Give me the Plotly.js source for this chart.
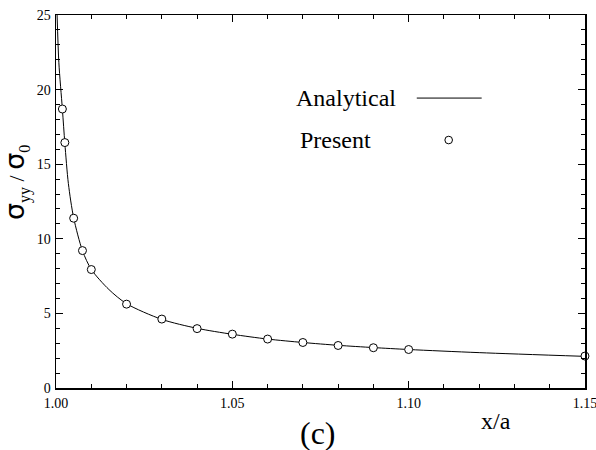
<!DOCTYPE html>
<html><head><meta charset="utf-8">
<script src="https://cdn.plot.ly/plotly-3.0.1.min.js"></script>
<style>body{margin:0;background:#fff}#c{width:596px;height:450px}</style>
</head><body><div id="c"></div>
<script>
// Analytical curve
const curveX = [1.0003, 1.0008, 1.0018, 1.0025, 1.0035, 1.005, 1.0075, 1.01, 1.015, 1.02, 1.03, 1.04, 1.05, 1.06, 1.07, 1.08, 1.09, 1.10, 1.12, 1.15];
const curveY = [25.0, 21.8, 18.7, 16.4, 13.7, 11.4, 9.2, 7.95, 6.6, 5.65, 4.6, 4.0, 3.6, 3.28, 3.05, 2.86, 2.71, 2.58, 2.37, 2.12];
// Present (numerical) results
const presX = [1.0018, 1.0025, 1.005, 1.0075, 1.01, 1.02, 1.03, 1.04, 1.05, 1.06, 1.07, 1.08, 1.09, 1.10, 1.15];
const presY = [18.7, 16.45, 11.38, 9.21, 7.94, 5.62, 4.62, 3.98, 3.61, 3.28, 3.05, 2.85, 2.70, 2.58, 2.14];
const xTicks = [1.00, 1.05, 1.10, 1.15];
const xTickText = ['1.00', '1.05', '1.10', '1.15'];
const yTicks = [0, 5, 10, 15, 20, 25];

const serif = 'Liberation Serif';
const traces = [
  {x: curveX, y: curveY, mode: 'lines', line: {color: '#000', width: 1, shape: 'spline', smoothing: 0.8}, hoverinfo: 'skip', showlegend: false},
  {x: presX, y: presY, mode: 'markers', marker: {symbol: 'circle', size: 8, color: '#fff', line: {color: '#000', width: 1}}, showlegend: false, cliponaxis: false}
];
const axisCommon = {showgrid: false, zeroline: false, showline: true, linecolor: '#000', linewidth: 1.5, mirror: 'allticks',
  ticks: 'inside', ticklen: 7, tickwidth: 1, tickcolor: '#000', ticklabeloverflow: 'allow',
  tickfont: {family: serif, size: 14, color: '#000'}};
const sub = t => '<sub><span style="font-family:Liberation Serif;font-size:16px">' + t + '</span></sub>';
const yTitle = 'σ' + sub('yy') + '<span style="font-family:Liberation Serif;font-size:22px"> / </span>σ' + sub('0');
const layout = {
  width: 596, height: 450, paper_bgcolor: '#fff', plot_bgcolor: '#fff',
  margin: {l: 56, r: 11, t: 15, b: 62},
  xaxis: Object.assign({}, axisCommon, {range: [0.99999, 1.15001], tickvals: xTicks, ticktext: xTickText, ticklabelstandoff: 2,
    minor: {dtick: 0.01, tick0: 1.0, ticks: 'inside', ticklen: 4, tickcolor: '#000', showgrid: false}}),
  yaxis: Object.assign({}, axisCommon, {range: [0, 25.0001], tickvals: yTicks, ticklabelstandoff: 1,
    minor: {dtick: 1, tick0: 0, ticks: 'inside', ticklen: 4, tickcolor: '#000', showgrid: false}}),
  annotations: [
    {xref: 'paper', yref: 'paper', x: -0.0735, y: 0.5497, text: yTitle, textangle: -90, showarrow: false, xanchor: 'center', yanchor: 'middle', font: {family: 'DejaVu Sans', size: 27, color: '#000'}},
    {xref: 'paper', yref: 'paper', x: 0.549, y: 0.7773, text: 'Analytical', showarrow: false, xanchor: 'center', yanchor: 'middle', font: {family: serif, size: 24, color: '#000'}},
    {xref: 'paper', yref: 'paper', x: 0.529, y: 0.6648, text: 'Present', showarrow: false, xanchor: 'center', yanchor: 'middle', font: {family: serif, size: 24, color: '#000'}},
    {xref: 'paper', yref: 'paper', x: 0.831, y: -0.0875, text: 'x/a', showarrow: false, xanchor: 'center', yanchor: 'middle', font: {family: serif, size: 24, color: '#000'}},
    {xref: 'paper', yref: 'paper', x: 0.495, y: -0.12, text: '(c)', showarrow: false, xanchor: 'center', yanchor: 'middle', font: {family: serif, size: 32, color: '#000'}}
  ],
  shapes: [
    {type: 'line', xref: 'paper', yref: 'paper', x0: 0.682, x1: 0.8047, y0: 0.7773, y1: 0.7773, line: {color: '#000', width: 1}},
    {type: 'circle', xref: 'paper', yref: 'paper', x0: 0.7423 - 0.0072, x1: 0.7423 + 0.0072, y0: 0.6648 - 0.0102, y1: 0.6648 + 0.0102, line: {color: '#000', width: 1}, fillcolor: '#fff'}
  ]
};
Plotly.newPlot('c', traces, layout, {displayModeBar: false, staticPlot: true});
</script></body></html>
